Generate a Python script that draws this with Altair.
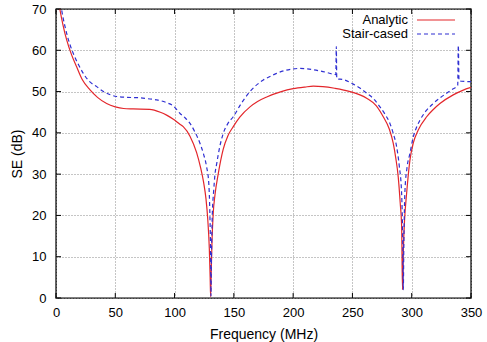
import altair as alt
import pandas as pd

# Shielding effectiveness vs. frequency: analytic solution and stair-cased model
series_names = ["Analytic", "Stair-cased"]

red_freq = [1.5, 3.4, 6, 9, 13, 17.4, 22, 28.7, 35, 42.7, 50, 57, 65, 79, 88, 93.3,
            99, 104, 107.3, 113, 118.6, 122, 124.5, 126.5, 128, 129.3, 130.0, 130.4,
            130.9, 131.6, 132.6, 134.1, 136.9, 141, 145, 149.5, 155, 163.6, 170, 177.7,
            190, 200, 210, 217, 225, 235, 248, 262, 270, 276, 281, 284.4, 286.5, 288.6,
            290.3, 291.5, 292.2, 293, 294, 295.7, 298.5, 301.3, 305.5, 312.6, 318,
            323.8, 335, 343, 350]
red_se = [73, 69.7, 66, 62.5, 59, 56, 53, 50.4, 48.6, 47.1, 46.3, 45.9, 45.8, 45.7,
          45.0, 44.3, 43.3, 42.2, 41.5, 39.2, 35.2, 31.5, 28, 24, 19, 12, 5, 0.3, 6, 14,
          20.5, 25, 30.2, 36, 39.3, 41.5, 43.8, 46.3, 47.6, 48.7, 50.0, 50.7, 51.1, 51.3,
          51.2, 50.8, 50.0, 48.4, 46.6, 43.9, 41, 37.5, 34, 29.4, 23, 17.3, 2, 12, 19,
          25.3, 33.4, 37.5, 40.7, 43.9, 45.6, 47.1, 49.2, 50.3, 51]

blue_freq = [3, 4.8, 9, 14.6, 19, 23, 28, 34.3, 40, 46, 51.2, 60, 70, 79.3, 85, 93.3,
             99, 104.6, 109, 113, 117, 121.4, 124.5, 127, 128.8, 129.8, 130.4, 130.7,
             131.1, 131.8, 133, 134.1, 135.5, 138, 141.1, 145, 149.5, 156, 163.6, 170,
             174.8, 180, 186, 193, 200, 205, 212, 222.6, 230, 233.8, 236.0, 236.4, 236.8,
             242.2, 250.7, 256, 262, 268, 273.2, 277.5, 281.6, 284.5, 287.3, 289.5,
             291.5, 292.4, 292.9, 293.4, 294.3, 296, 298.5, 301.3, 304, 307, 312, 318.1,
             324, 329.4, 334, 338.8, 339.3, 339.9, 342, 350]
blue_se = [73, 69.7, 64.1, 59.2, 56.5, 54.4, 52.5, 51.2, 50, 49.2, 48.8, 48.6, 48.5,
           48.2, 48.0, 47.3, 46.5, 44.7, 43.6, 42.3, 40.3, 37.5, 34.8, 31.8, 28, 20, 10,
           0.5, 10, 20, 26, 30, 32.5, 36.5, 39.9, 42.3, 43.9, 47, 50, 51.8, 52.8, 53.6,
           54.4, 55.1, 55.5, 55.6, 55.5, 55, 54.5, 54.2, 54.1, 60.9, 53.1, 52.9, 51.8,
           50.9, 49.6, 48.2, 46.3, 44.5, 42.3, 39.8, 36.6, 32, 25.3, 14, 2, 14, 26, 31.5,
           35, 39, 41.3, 43.1, 45.3, 47.1, 48.5, 49.6, 50.5, 51.5, 61.2, 52.6, 52.5, 52.4]

x_ticks = [0, 50, 100, 150, 200, 250, 300, 350]
y_ticks = [0, 10, 20, 30, 40, 50, 60, 70]

RED = "#e3262b"
BLUE = "#2f2fd2"
FONT = "Liberation Sans"

W, H = 415, 289
x_scale = alt.Scale(domain=[0, 350], nice=False, zero=False)
y_scale = alt.Scale(domain=[0, 70], nice=False)

x_axis = alt.Axis(title="Frequency (MHz)", values=x_ticks, ticks=False,
                  labelPadding=8, titlePadding=8, domain=False, labelFlush=False,
                  grid=True, gridDash=[1, 2], gridColor="#8a8a8a", gridWidth=1)
y_axis = alt.Axis(title="SE (dB)", values=y_ticks, ticks=False,
                  labelPadding=10, titlePadding=7, domain=False, labelFlush=False,
                  grid=True, gridDash=[1, 2], gridColor="#8a8a8a", gridWidth=1)


def xq():
    return alt.X("freq:Q", scale=x_scale, axis=x_axis)


def yq():
    return alt.Y("se:Q", scale=y_scale, axis=y_axis)


red_df = pd.DataFrame({"freq": red_freq, "se": red_se})
blue_df = pd.DataFrame({"freq": blue_freq, "se": blue_se})

analytic = alt.Chart(red_df).mark_line(
    color=RED, strokeWidth=1.2, clip=True, interpolate="monotone"
).encode(x=xq(), y=yq())
stair = alt.Chart(blue_df).mark_line(
    color=BLUE, strokeWidth=1.2, strokeDash=[4, 3], clip=True, interpolate="monotone"
).encode(x=xq(), y=yq())

# inward tick marks on all four sides of the frame
yt = pd.DataFrame({"se": y_ticks})
xt = pd.DataFrame({"freq": x_ticks})
tick_left = alt.Chart(yt).mark_rule(color="black", strokeWidth=1).encode(
    y=yq(), x=alt.value(0), x2=alt.value(5))
tick_right = alt.Chart(yt).mark_rule(color="black", strokeWidth=1).encode(
    y=yq(), x=alt.value(W - 5), x2=alt.value(W))
tick_bottom = alt.Chart(xt).mark_rule(color="black", strokeWidth=1).encode(
    x=xq(), y=alt.value(H - 5), y2=alt.value(H))
tick_top = alt.Chart(xt).mark_rule(color="black", strokeWidth=1).encode(
    x=xq(), y=alt.value(0), y2=alt.value(5))

# key in the top right corner: label first, line sample after it
one = pd.DataFrame({"label": [series_names[0]]})
two = pd.DataFrame({"label": [series_names[1]]})
key_text1 = alt.Chart(one).mark_text(align="right", baseline="middle", font=FONT,
                                     fontSize=13, color="black").encode(
    text="label:N", x=alt.value(352), y=alt.value(10.5))
key_text2 = alt.Chart(two).mark_text(align="right", baseline="middle", font=FONT,
                                     fontSize=13, color="black").encode(
    text="label:N", x=alt.value(352), y=alt.value(24.5))
key_line1 = alt.Chart(one).mark_rule(color=RED, strokeWidth=1.2).encode(
    x=alt.value(361), x2=alt.value(399), y=alt.value(11))
key_line2 = alt.Chart(two).mark_rule(color=BLUE, strokeWidth=1.2,
                                     strokeDash=[4, 3]).encode(
    x=alt.value(361), x2=alt.value(399), y=alt.value(25))

chart = alt.layer(
    analytic, stair, tick_left, tick_right, tick_bottom, tick_top,
    key_text1, key_text2, key_line1, key_line2,
).properties(
    width=W, height=H,
    autosize=alt.AutoSizeParams(type="none"),
    padding={"left": 56, "top": 9, "right": 16, "bottom": 44},
    background="white",
).configure_view(
    stroke="black", strokeWidth=1.4
).configure_axis(
    labelFont=FONT, titleFont=FONT, labelFontSize=13, titleFontSize=14,
    labelColor="black", titleColor="black", titleFontWeight="normal"
)

chart.save("out.html", embed_options={"renderer": "svg", "actions": False})
